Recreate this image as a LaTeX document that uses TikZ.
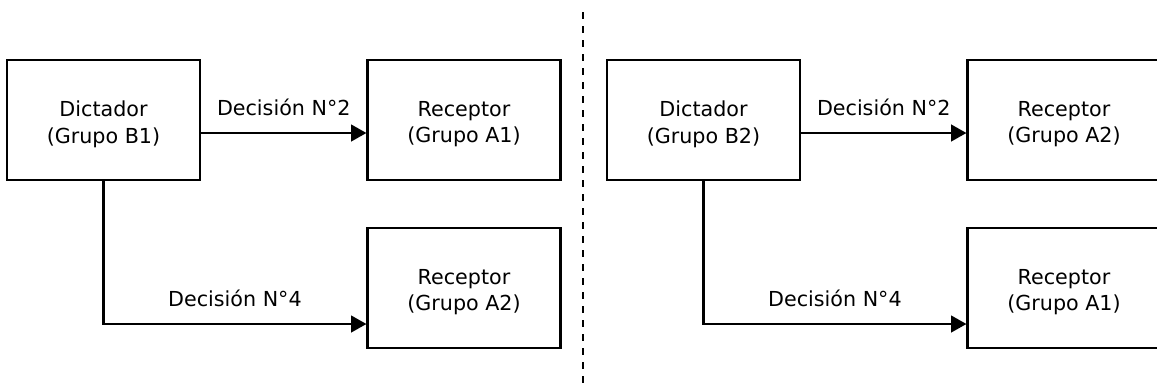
\documentclass[tikz,border=0pt]{standalone}
\usepackage{fontspec}
\setmainfont{DejaVu Sans}
\usetikzlibrary{arrows.meta}
\begin{document}
\begin{tikzpicture}[x=0.75pt,y=-0.75pt,
  box/.style={draw=black, line width=1.6pt, rectangle, minimum width=144.75pt,
    minimum height=90pt, inner sep=0pt},
  boxtext/.style={align=center, inner sep=0pt, yshift=-3pt,
    font=\fontsize{15.5pt}{20pt}\selectfont},
  arr/.style={line width=1.6pt, -{Triangle[length=11.5pt,width=12.5pt]}},
  lbl/.style={anchor=base, inner sep=0pt, yshift=13pt,
    font=\fontsize{15.5pt}{20pt}\selectfont},
  divider/.style={line width=1.6pt, dash pattern=on 5.25pt off 5.25pt}]
\useasboundingbox (0,0) rectangle (1157,387);

% left group
\node[box, label={[boxtext]center:Dictador\\(Grupo B1)}] (dA) at (103.5,120) {};
\node[box, label={[boxtext]center:Receptor\\(Grupo A1)}] (rA1) at (464,120) {};
\node[box, label={[boxtext]center:Receptor\\(Grupo A2)}] (rA2) at (464,288) {};
\draw[arr] ([yshift=-9.75pt]dA.east) -- node[lbl] {Decisión N°2} ([yshift=-9.75pt]rA1.west);
\draw[arr] (dA.south) |- node[lbl, pos=0.75] {Decisión N°4} ([yshift=-27pt]rA2.west);

% separator
\coordinate (sepTop) at (583,12);
\coordinate (sepBot) at (583,390);
\draw[divider] (sepTop) -- (sepBot);

% right group
\node[box, label={[boxtext]center:Dictador\\(Grupo B2)}] (dB) at (703.5,120) {};
\node[box, label={[boxtext]center:Receptor\\(Grupo A2)}] (rB1) at (1064,120) {};
\node[box, label={[boxtext]center:Receptor\\(Grupo A1)}] (rB2) at (1064,288) {};
\draw[arr] ([yshift=-9.75pt]dB.east) -- node[lbl] {Decisión N°2} ([yshift=-9.75pt]rB1.west);
\draw[arr] (dB.south) |- node[lbl, pos=0.75] {Decisión N°4} ([yshift=-27pt]rB2.west);
\end{tikzpicture}
\end{document}
